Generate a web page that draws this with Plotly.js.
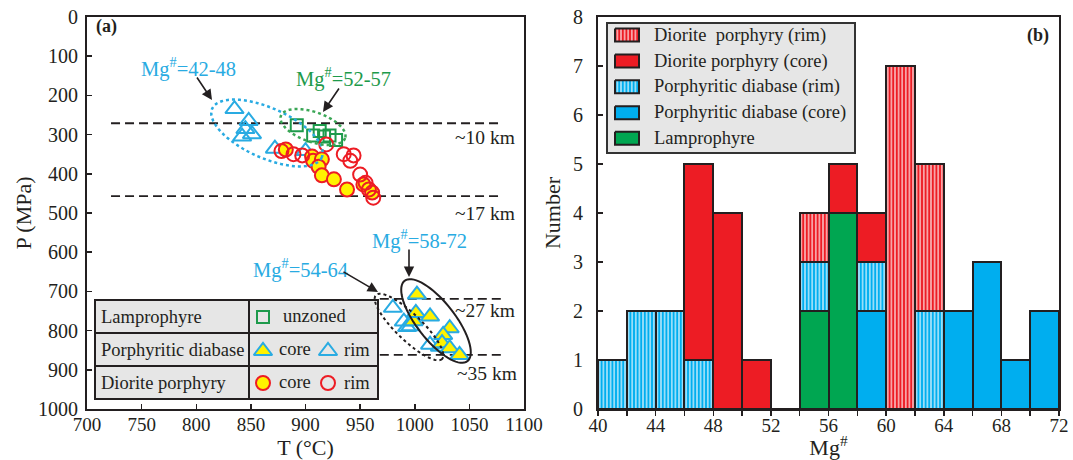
<!DOCTYPE html>
<html><head><meta charset="utf-8">
<script src="https://cdn.plot.ly/plotly-3.0.1.min.js"></script>
<style>html,body{margin:0;padding:0;background:#fff;}#chart{width:1073px;height:460px;}</style>
</head><body><div id="chart"></div>
<script>
// ---------- Panel (a): T (°C) vs P (MPa) ----------
const lampT   = [892, 907, 913, 917, 922, 928];
const lampP   = [276, 302, 291, 305, 302, 314];
const pdRimT  = [835, 848, 845, 851, 842, 872, 900, 980, 990, 993, 996, 1014, 1023];
const pdRimP  = [235, 265, 286, 299, 305, 336, 342, 742, 777, 791, 789, 836, 841];
const pdCoreT = [1002, 999, 1001, 1014, 1032, 1026, 1025, 1032, 1041];
const pdCoreP = [708, 776, 755, 764, 794, 811, 832, 845, 862];
const dpCoreT = [882, 906, 907, 915, 912, 915, 926, 938, 953, 961];
const dpCoreP = [338, 356, 367, 363, 382, 404, 414, 440, 427, 448];
const dpRimT  = [878, 889, 897, 919, 935, 944, 941, 950, 955, 958, 962];
const dpRimP  = [342, 350, 353, 325, 350, 353, 367, 402, 423, 440, 461];
const depthP      = [271, 457, 719, 862];
const depthLabels = ['~10 km', '~17 km', '~27 km', '~35 km'];
const mgGroupLabels = ['Mg<sup>#</sup>=42-48', 'Mg<sup>#</sup>=52-57', 'Mg<sup>#</sup>=58-72', 'Mg<sup>#</sup>=54-64'];
const tableRows = ['Lamprophyre', 'Porphyritic diabase', 'Diorite porphyry'];

// ---------- Panel (b): Mg# histogram (bin centres, width 2) ----------
const mgBins  = [41, 43, 45, 47, 49, 51, 53, 55, 57, 59, 61, 63, 65, 67, 69, 71];
const lampN   = [0, 0, 0, 0, 0, 0, 0, 2, 4, 0, 0, 0, 0, 0, 0, 0];
const pdCoreN = [0, 0, 0, 0, 0, 0, 0, 0, 0, 2, 0, 0, 2, 3, 1, 2];
const pdRimN  = [1, 2, 2, 1, 0, 0, 0, 1, 0, 1, 0, 2, 0, 0, 0, 0];
const dpCoreN = [0, 0, 0, 4, 4, 1, 0, 0, 1, 1, 0, 0, 0, 0, 0, 0];
const dpRimN  = [0, 0, 0, 0, 0, 0, 0, 1, 0, 0, 7, 3, 0, 0, 0, 0];
const histNames = ['Diorite  porphyry (rim)', 'Diorite porphyry (core)', 'Porphyritic diabase (rim)', 'Porphyritic diabase (core)', 'Lamprophyre'];

// ---------- styles ----------
const W = 1073, H = 460;
const FONT = 'Liberation Serif, Times New Roman, serif';
const INK = '#231f20';
const CYAN = '#29abe2', RED = '#ed1c24', YEL = '#fff200', GRN = '#1d9a4b';
const BLUE = '#00aeef', BARRED = '#ed1c24', BARGRN = '#00a651';
const stripe = (bg) => ({shape: '|', bgcolor: bg, fgcolor: '#ffffff', size: 3.6, solidity: 0.3, fillmode: 'replace'});

const mk = {
  lamp:   {symbol: 'square', size: 12, color: 'rgba(0,0,0,0)', line: {color: GRN, width: 2}},
  pdRim:  {symbol: 'triangle-up', size: 16, color: 'rgba(0,0,0,0)', line: {color: CYAN, width: 2}},
  pdCore: {symbol: 'triangle-up', size: 16, color: YEL, line: {color: CYAN, width: 2}},
  dpCore: {symbol: 'circle', size: 14, color: YEL, line: {color: RED, width: 2}},
  dpRim:  {symbol: 'circle', size: 14, color: 'rgba(0,0,0,0)', line: {color: RED, width: 2}}
};

const traces = [];
const sc = (x, y, marker) => ({type: 'scatter', mode: 'markers', x, y, marker, xaxis: 'x', yaxis: 'y', hoverinfo: 'x+y', showlegend: false});
traces.push(sc(pdRimT, pdRimP, mk.pdRim));
traces.push(sc(lampT, lampP, mk.lamp));
traces.push(sc(dpCoreT, dpCoreP, mk.dpCore));
traces.push(sc(dpRimT, dpRimP, mk.dpRim));
traces.push(sc(pdCoreT, pdCoreP, mk.pdCore));

// histogram stacked bars (bottom -> top)
const bar = (y, name, color, pattern) => {
  const m = {color, line: {color: INK, width: 2}};
  if (pattern) m.pattern = pattern;
  return {type: 'bar', x: mgBins, y, width: 2, name, marker: m, xaxis: 'x2', yaxis: 'y2', showlegend: false};
};
traces.push(bar(lampN, histNames[4], BARGRN));
traces.push(bar(pdCoreN, histNames[3], BLUE));
traces.push(bar(pdRimN, histNames[2], BLUE, stripe(BLUE)));
traces.push(bar(dpCoreN, histNames[1], BARRED));
traces.push(bar(dpRimN, histNames[0], BARRED, stripe(BARRED)));

// ---------- overlay (pixel) subplot for legends ----------
const px = (x, y, marker) => ({type: 'scatter', mode: 'markers', x: [x], y: [y], marker, xaxis: 'x3', yaxis: 'y3', hoverinfo: 'skip', showlegend: false});
traces.push(px(263, 317, mk.lamp));
traces.push(px(263, 351, mk.pdCore));
traces.push(px(328, 351, mk.pdRim));
traces.push(px(263, 383, mk.dpCore));
traces.push(px(328, 383, mk.dpRim));

const swatchY = [35, 61, 86.7, 112.7, 138.3];
const swatchFill = [[BARRED, stripe(BARRED)], [BARRED, null], [BLUE, stripe(BLUE)], [BLUE, null], [BARGRN, null]];
swatchY.forEach((cy, i) => {
  const t = {type: 'scatter', mode: 'lines', x: [615, 639, 639, 615, 615], y: [cy - 6.5, cy - 6.5, cy + 6.5, cy + 6.5, cy - 6.5],
    fill: 'toself', fillcolor: swatchFill[i][0], line: {color: INK, width: 2}, xaxis: 'x3', yaxis: 'y3', hoverinfo: 'skip', showlegend: false};
  if (swatchFill[i][1]) t.fillpattern = swatchFill[i][1];
  traces.push(t);
});

// ---------- shapes ----------
const shapes = [];
const depthX0 = [722, 722, 968, 968];
depthP.forEach((p, i) => shapes.push({type: 'line', xref: 'x', yref: 'y', x0: depthX0[i], x1: 1080, y0: p, y1: p,
  line: {color: INK, width: 1.8, dash: '9px,5px'}, layer: 'below'}));

function ellipse(cx, cy, a, b, deg) {
  const th = deg * Math.PI / 180; let d = '';
  for (let k = 0; k <= 72; k++) {
    const t = k / 72 * 2 * Math.PI;
    const x = cx + a * Math.cos(t) * Math.cos(th) - b * Math.sin(t) * Math.sin(th);
    const y = cy + a * Math.cos(t) * Math.sin(th) + b * Math.sin(t) * Math.cos(th);
    d += (k ? 'L' : 'M') + x.toFixed(2) + ',' + y.toFixed(2);
  }
  return d + 'Z';
}
const ells = [
  {c: [267, 133, 60, 25, 24], color: CYAN, dash: 'dot', w: 2.5},
  {c: [313, 127, 34, 15, 19], color: '#3aa655', dash: 'dot', w: 2.5},
  {c: [409, 327, 46, 13, 44], color: INK, dash: 'dot', w: 2},
  {c: [436, 321, 51, 19, 52], color: INK, dash: 'solid', w: 2}
];
ells.forEach(e => shapes.push({type: 'path', xref: 'x3', yref: 'y3', path: ellipse(...e.c), line: {color: e.color, width: e.w, dash: e.dash}, layer: 'above'}));

// legend table
const gridLine = {color: INK, width: 2};
shapes.push({type: 'rect', xref: 'x3', yref: 'y3', x0: 95, x1: 378, y0: 300, y1: 399, fillcolor: '#e6e6e6', line: gridLine, layer: 'below'});
shapes.push({type: 'line', xref: 'x3', yref: 'y3', x0: 95, x1: 378, y0: 333, y1: 333, line: gridLine, layer: 'below'});
shapes.push({type: 'line', xref: 'x3', yref: 'y3', x0: 95, x1: 378, y0: 366, y1: 366, line: gridLine, layer: 'below'});
shapes.push({type: 'line', xref: 'x3', yref: 'y3', x0: 249, x1: 249, y0: 300, y1: 399, line: gridLine, layer: 'below'});
// histogram legend box
shapes.push({type: 'rect', xref: 'x3', yref: 'y3', x0: 607, x1: 855, y0: 23, y1: 153, fillcolor: '#e6e6e6', line: {color: '#333', width: 2}, layer: 'below'});

// ---------- annotations ----------
const ann = [];
const TXT = 18.5;
const txt = (x, y, text, o = {}) => Object.assign({xref: 'x3', yref: 'y3', x, y, text, showarrow: false,
  font: {family: FONT, size: TXT, color: INK}, xanchor: 'center', yanchor: 'middle'}, o);

ann.push(txt(106, 26, '<b>(a)</b>', {font: {family: FONT, size: 18, color: INK}}));
ann.push(txt(1038, 35, '<b>(b)</b>', {font: {family: FONT, size: 18, color: INK}}));

const depthLabelPos = [[517, 137], [517, 213], [517, 310], [519, 373]];
depthLabels.forEach((t, i) => ann.push(txt(depthLabelPos[i][0], depthLabelPos[i][1], t, {xanchor: 'right', font: {family: FONT, size: 19.5, color: INK}})));

const mgPos = [[188, 67], [343, 77], [419, 239], [300, 268]];
const mgCol = [CYAN, GRN, CYAN, CYAN];
mgGroupLabels.forEach((t, i) => ann.push(txt(mgPos[i][0], mgPos[i][1], t, {font: {family: FONT, size: 20.5, color: mgCol[i]}})));

const arrows = [[212, 100, -16, -24], [323, 112, 17, -25], [409, 277, 0, -29], [378, 292, -36, -21]];
arrows.forEach(a => ann.push({xref: 'x3', yref: 'y3', x: a[0], y: a[1], ax: a[2], ay: a[3], text: '', showarrow: true,
  arrowhead: 2, arrowsize: 1.3, arrowwidth: 1.6, arrowcolor: INK, standoff: 0}));

tableRows.forEach((t, i) => ann.push(txt(99, 317 + i * 33, t, {xanchor: 'left'})));
ann.push(txt(281, 316, 'unzoned', {xanchor: 'left'}));
ann.push(txt(277, 349, 'core', {xanchor: 'left'}));
ann.push(txt(342, 350, 'rim', {xanchor: 'left'}));
ann.push(txt(277, 382, 'core', {xanchor: 'left'}));
ann.push(txt(342, 383, 'rim', {xanchor: 'left'}));

histNames.forEach((t, i) => ann.push(txt(652, swatchY[i], t, {xanchor: 'left'})));

// ---------- axes ----------
const axBase = {showline: true, linewidth: 2, linecolor: INK, mirror: true, showgrid: false, zeroline: false,
  tickcolor: INK, tickwidth: 1.5, ticklen: 5, fixedrange: true};
const xTick = {family: FONT, size: 19, color: INK}, yTick = {family: FONT, size: 20, color: INK};
const titleFont = {family: FONT, size: 22, color: INK};
const yDom = [51 / H, 443 / H];

const layout = {
  width: W, height: H, margin: {l: 0, r: 0, t: 0, b: 0}, paper_bgcolor: '#fff', plot_bgcolor: 'rgba(0,0,0,0)',
  showlegend: false, barmode: 'stack', bargap: 0, font: {family: FONT, color: INK},
  xaxis: Object.assign({}, axBase, {domain: [87 / W, 524 / W], range: [700, 1100], dtick: 50, tick0: 700, ticks: 'inside', anchor: 'y',
    tickfont: xTick, ticklabelstandoff: -3, title: {text: 'T (°C)', font: titleFont, standoff: 6}}),
  yaxis: Object.assign({}, axBase, {domain: yDom, range: [1000, 0], dtick: 100, tick0: 0, ticks: 'inside', anchor: 'x',
    tickfont: yTick, ticklabelstandoff: 3, title: {text: 'P (MPa)', font: titleFont, standoff: 0}}),
  xaxis2: Object.assign({}, axBase, {domain: [598 / W, 1059 / W], range: [40, 72], dtick: 4, tick0: 40, ticks: 'outside', anchor: 'y2',
    minor: {dtick: 2, ticks: 'outside', ticklen: 5, tickcolor: INK, tickwidth: 1.5}, tickfont: xTick, ticklabelstandoff: -7,
    title: {text: 'Mg<sup>#</sup>', font: titleFont, standoff: 6}}),
  yaxis2: Object.assign({}, axBase, {domain: yDom, range: [0, 8], dtick: 1, tick0: 0, ticks: 'inside', anchor: 'x2',
    tickfont: yTick, ticklabelstandoff: 9, title: {text: 'Number', font: titleFont, standoff: 6}}),
  xaxis3: {domain: [0, 1], range: [0, W], visible: false, fixedrange: true, anchor: 'y3'},
  yaxis3: {domain: [0, 1], range: [H, 0], visible: false, fixedrange: true, anchor: 'x3'},
  shapes, annotations: ann
};

Plotly.newPlot('chart', traces, layout, {staticPlot: true, displayModeBar: false});
</script></body></html>
